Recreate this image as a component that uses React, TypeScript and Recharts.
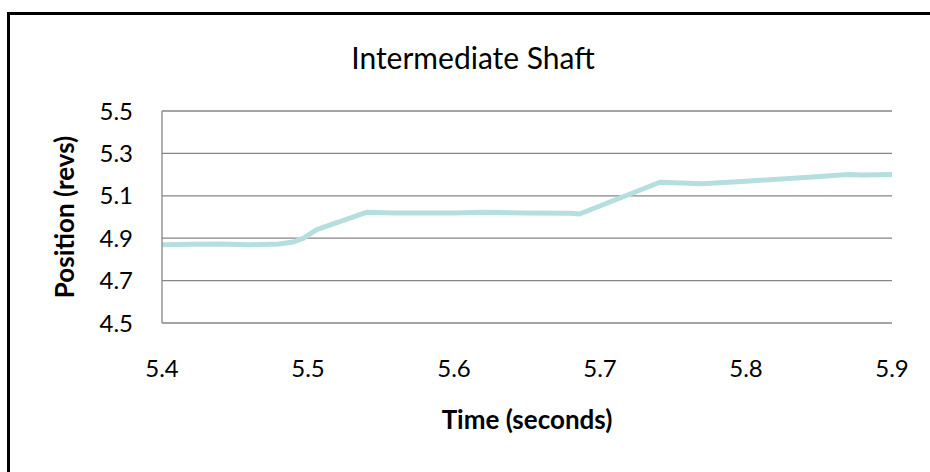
import { LineChart, Line, XAxis, YAxis, CartesianGrid } from "recharts";

// shaft position samples (seconds, revolutions)
const times = [
  5.4, 5.42, 5.44, 5.46, 5.48, 5.49, 5.497, 5.506, 5.54, 5.56, 5.6, 5.62,
  5.65, 5.68, 5.686, 5.741, 5.77, 5.8, 5.84, 5.87, 5.88, 5.9,
];
const positions = [
  4.869, 4.872, 4.873, 4.869, 4.873, 4.882, 4.9, 4.94, 5.022, 5.019, 5.019,
  5.022, 5.019, 5.018, 5.014, 5.164, 5.157, 5.169, 5.186, 5.2, 5.198, 5.201,
];

const xTicks = [5.4, 5.5, 5.6, 5.7, 5.8, 5.9];
const yTicks = [4.5, 4.7, 4.9, 5.1, 5.3, 5.5];

const data = times.map((t, i) => ({ t, pos: positions[i] }));

const FONT = "Lato, 'Open Sans', sans-serif";
const GRID = "#868686";

export default function App() {
  return (
    <div
      style={{
        position: "absolute",
        left: 0,
        top: 0,
        width: 930,
        height: 472,
        overflow: "hidden",
        background: "#fff",
        fontFamily: FONT,
      }}
    >
      <div
        style={{
          position: "absolute",
          left: 7,
          top: 12,
          width: 960,
          height: 500,
          borderTop: "3px solid #000",
          borderLeft: "3px solid #000",
        }}
      />
      <div
        style={{
          position: "absolute",
          left: 273,
          top: 37,
          width: 400,
          textAlign: "center",
          fontSize: 30,
          lineHeight: "40px",
          color: "#000",
        }}
      >
        Intermediate Shaft
      </div>
      <div style={{ position: "absolute", left: 0, top: 0 }}>
        <LineChart
          width={930}
          height={472}
          data={data}
          margin={{ top: 111, right: 38, bottom: 89, left: 52 }}
        >
          <CartesianGrid vertical={false} stroke={GRID} strokeWidth={1.3} />
          <XAxis
            dataKey="t"
            type="number"
            domain={[5.4, 5.9]}
            ticks={xTicks}
            tickFormatter={(v: number) => v.toFixed(1)}
            axisLine={false}
            tickLine={false}
            tickSize={0}
            tickMargin={37}
            height={60}
            tick={{ fill: "#000", fontSize: 24, fontFamily: FONT }}
            label={{
              value: "Time (seconds)",
              position: "bottom",
              offset: 28,
              style: { fill: "#000", fontSize: 26, fontWeight: 700, fontFamily: FONT },
            }}
          />
          <YAxis
            type="number"
            domain={[4.5, 5.5]}
            ticks={yTicks}
            tickFormatter={(v: number) => v.toFixed(1)}
            axisLine={{ stroke: GRID, strokeWidth: 1.3 }}
            tickLine={false}
            tickSize={0}
            tickMargin={29}
            width={110}
            tick={{ fill: "#000", fontSize: 24, fontFamily: FONT }}
            label={{
              value: "Position (revs)",
              angle: -90,
              position: "insideLeft",
              offset: 13,
              style: {
                fill: "#000",
                fontSize: 26,
                fontWeight: 700,
                fontFamily: FONT,
                textAnchor: "middle",
              },
            }}
          />
          <Line
            type="linear"
            dataKey="pos"
            stroke="#b5dfdf"
            strokeWidth={5}
            strokeLinejoin="round"
            dot={false}
            isAnimationActive={false}
          />
        </LineChart>
      </div>
    </div>
  );
}
